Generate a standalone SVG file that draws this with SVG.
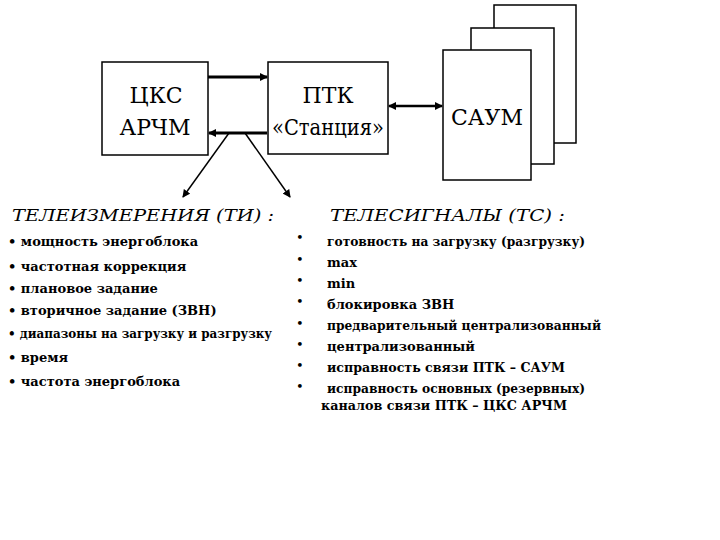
<svg xmlns="http://www.w3.org/2000/svg" width="720" height="540" viewBox="0 0 720 540">
<style>
rect{fill:#fff;stroke:#000;stroke-width:1.5}
text{font-family:"DejaVu Serif","Liberation Serif",serif}
.big{font-size:22px;text-anchor:middle}
.h{font-size:17px;font-style:italic}
.l{font-size:13px;font-weight:bold}
.b{font-size:13px}
</style>
<defs>
<marker id="a" markerWidth="8" markerHeight="8" refX="7" refY="4" orient="auto" markerUnits="userSpaceOnUse"><path d="M0,0L8,4L0,8z"/></marker>
<marker id="as" markerWidth="8" markerHeight="8" refX="1" refY="4" orient="auto" markerUnits="userSpaceOnUse"><path d="M8,0L0,4L8,8z"/></marker>
</defs>
<g id="saum">
<rect x="494" y="5" width="82" height="138"/>
<rect x="471" y="28" width="83" height="136"/>
<rect x="443" y="50" width="88" height="130"/>
<text class="big" x="487" y="125">САУМ</text>
</g>
<g id="cks">
<rect x="102" y="62" width="106" height="93"/>
<text class="big" x="156" y="103">ЦКС</text>
<text class="big" x="155" y="135">АРЧМ</text>
</g>
<g id="ptk">
<rect x="268" y="62" width="120" height="92"/>
<text class="big" x="328" y="103">ПТК</text>
<text class="big" x="328" y="135" textLength="112" lengthAdjust="spacingAndGlyphs">«Станция»</text>
</g>
<g id="connectors" stroke="#000" fill="none">
<line x1="208" y1="77" x2="267" y2="77" stroke-width="3" marker-end="url(#a)"/>
<line x1="267" y1="133" x2="209" y2="133" stroke-width="3" marker-end="url(#a)"/>
<line x1="389" y1="106" x2="442" y2="106" stroke-width="2.5" marker-start="url(#as)" marker-end="url(#a)"/>
<line x1="229" y1="133" x2="183" y2="197" stroke-width="1.5" marker-end="url(#a)"/>
<line x1="245" y1="133" x2="290" y2="197" stroke-width="1.5" marker-end="url(#a)"/>
</g>
<g id="ti">
<text class="h" x="12" y="221" textLength="262" lengthAdjust="spacingAndGlyphs">ТЕЛЕИЗМЕРЕНИЯ (ТИ) :</text>
<text class="l" x="8" y="246">• мощность энергоблока</text>
<text class="l" x="8" y="271">• частотная коррекция</text>
<text class="l" x="8" y="293">• плановое задание</text>
<text class="l" x="8" y="315">• вторичное задание (ЗВН)</text>
<text class="l" x="8" y="338" textLength="264" lengthAdjust="spacingAndGlyphs">• диапазоны на загрузку и разгрузку</text>
<text class="l" x="8" y="362">• время</text>
<text class="l" x="8" y="386">• частота энергоблока</text>
</g>
<g id="ts">
<text class="h" x="330" y="221" textLength="235" lengthAdjust="spacingAndGlyphs">ТЕЛЕСИГНАЛЫ (ТС) :</text>
<g class="b"><text x="296" y="242">•</text><text x="296" y="264">•</text><text x="296" y="285">•</text><text x="296" y="306">•</text><text x="296" y="328">•</text><text x="296" y="349">•</text><text x="296" y="370">•</text><text x="296" y="391">•</text></g>
<text class="l" x="327" y="246" textLength="258" lengthAdjust="spacingAndGlyphs">готовность на загрузку (разгрузку)</text>
<text class="l" x="327" y="267">max</text>
<text class="l" x="327" y="288">min</text>
<text class="l" x="327" y="309">блокировка ЗВН</text>
<text class="l" x="327" y="330" textLength="274" lengthAdjust="spacingAndGlyphs">предварительный централизованный</text>
<text class="l" x="327" y="351">централизованный</text>
<text class="l" x="327" y="372" textLength="238" lengthAdjust="spacingAndGlyphs">исправность связи ПТК – САУМ</text>
<text class="l" x="327" y="393" textLength="258" lengthAdjust="spacingAndGlyphs">исправность основных (резервных)</text>
<text class="l" x="321" y="410" textLength="246" lengthAdjust="spacingAndGlyphs">каналов связи ПТК – ЦКС АРЧМ</text>
</g>
</svg>
